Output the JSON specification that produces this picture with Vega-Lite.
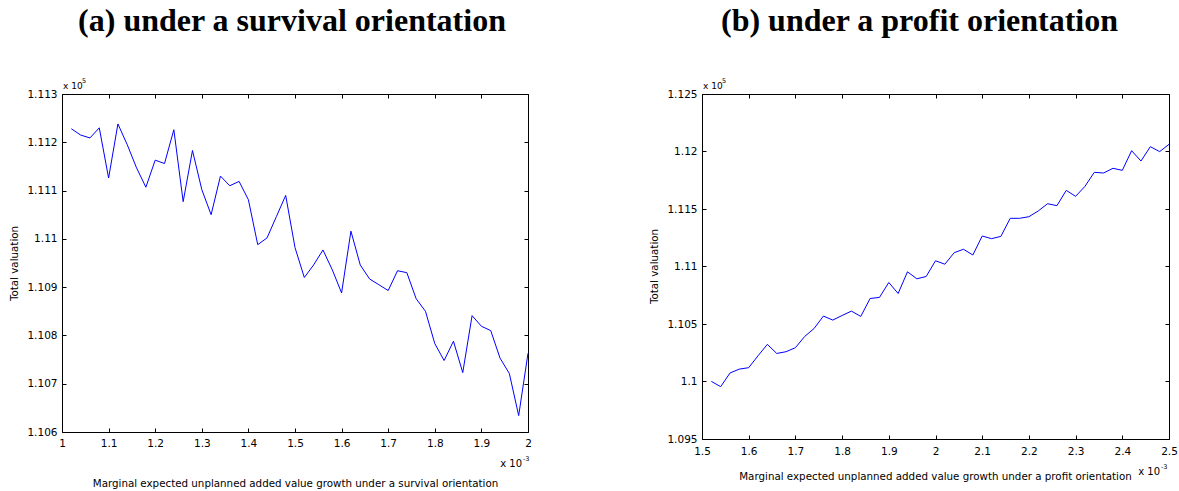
{
  "$schema": "https://vega.github.io/schema/vega-lite/v6.json",
  "background": "white",
  "padding": {"left": 8, "top": 4, "right": 0, "bottom": 0},
  "spacing": 116,
  "config": {
    "view": {"stroke": "black", "strokeWidth": 1},
    "font": "DejaVu Sans",
    "axis": {
      "labelFont": "DejaVu Sans", "labelFontSize": 10.5, "labelColor": "black",
      "titleFont": "DejaVu Sans", "titleFontSize": 10.3, "titleFontWeight": "normal", "titleColor": "black",
      "tickColor": "black", "tickSize": -4, "tickWidth": 1, "domain": false, "grid": false, "labelFlush": false
    }
  },
  "datasets": {
    "survival": [
      {"x": 1.02, "y": 1.11228}, {"x": 1.04, "y": 1.11215}, {"x": 1.06, "y": 1.11209}, {"x": 1.08, "y": 1.1123},
      {"x": 1.10, "y": 1.11126}, {"x": 1.12, "y": 1.11238}, {"x": 1.14, "y": 1.11195}, {"x": 1.16, "y": 1.11147},
      {"x": 1.18, "y": 1.11107}, {"x": 1.20, "y": 1.11163}, {"x": 1.22, "y": 1.11156}, {"x": 1.24, "y": 1.11226},
      {"x": 1.26, "y": 1.11077}, {"x": 1.28, "y": 1.11183}, {"x": 1.30, "y": 1.11102}, {"x": 1.32, "y": 1.1105},
      {"x": 1.34, "y": 1.1113}, {"x": 1.36, "y": 1.1111}, {"x": 1.38, "y": 1.11119}, {"x": 1.40, "y": 1.11081},
      {"x": 1.42, "y": 1.10988}, {"x": 1.44, "y": 1.11002}, {"x": 1.46, "y": 1.11046}, {"x": 1.48, "y": 1.1109},
      {"x": 1.50, "y": 1.10982}, {"x": 1.52, "y": 1.1092}, {"x": 1.54, "y": 1.10946}, {"x": 1.56, "y": 1.10977},
      {"x": 1.58, "y": 1.10936}, {"x": 1.60, "y": 1.10888}, {"x": 1.62, "y": 1.11016}, {"x": 1.64, "y": 1.10946},
      {"x": 1.66, "y": 1.10917}, {"x": 1.68, "y": 1.10905}, {"x": 1.70, "y": 1.10893}, {"x": 1.72, "y": 1.10934},
      {"x": 1.74, "y": 1.1093}, {"x": 1.76, "y": 1.10876}, {"x": 1.78, "y": 1.1085}, {"x": 1.80, "y": 1.10783},
      {"x": 1.82, "y": 1.10748}, {"x": 1.84, "y": 1.10788}, {"x": 1.86, "y": 1.10723}, {"x": 1.88, "y": 1.10841},
      {"x": 1.90, "y": 1.10819}, {"x": 1.92, "y": 1.1081}, {"x": 1.94, "y": 1.10753}, {"x": 1.96, "y": 1.10721},
      {"x": 1.98, "y": 1.10634}, {"x": 2.00, "y": 1.10763}
    ],
    "profit": [
      {"x": 1.52, "y": 1.10001}, {"x": 1.54, "y": 1.09955}, {"x": 1.56, "y": 1.10074}, {"x": 1.58, "y": 1.10108},
      {"x": 1.60, "y": 1.1012}, {"x": 1.62, "y": 1.10224}, {"x": 1.64, "y": 1.10323}, {"x": 1.66, "y": 1.10244},
      {"x": 1.68, "y": 1.10259}, {"x": 1.70, "y": 1.10294}, {"x": 1.72, "y": 1.10392}, {"x": 1.74, "y": 1.10461},
      {"x": 1.76, "y": 1.10569}, {"x": 1.78, "y": 1.10534}, {"x": 1.80, "y": 1.10574}, {"x": 1.82, "y": 1.10612},
      {"x": 1.84, "y": 1.10566}, {"x": 1.86, "y": 1.10722}, {"x": 1.88, "y": 1.10731}, {"x": 1.90, "y": 1.10861},
      {"x": 1.92, "y": 1.10765}, {"x": 1.94, "y": 1.10954}, {"x": 1.96, "y": 1.10893}, {"x": 1.98, "y": 1.10913},
      {"x": 2.00, "y": 1.1105}, {"x": 2.02, "y": 1.1102}, {"x": 2.04, "y": 1.1112}, {"x": 2.06, "y": 1.1115},
      {"x": 2.08, "y": 1.111}, {"x": 2.10, "y": 1.11265}, {"x": 2.12, "y": 1.11242}, {"x": 2.14, "y": 1.11262},
      {"x": 2.16, "y": 1.11419}, {"x": 2.18, "y": 1.11419}, {"x": 2.20, "y": 1.11433}, {"x": 2.22, "y": 1.11483},
      {"x": 2.24, "y": 1.11546}, {"x": 2.26, "y": 1.11529}, {"x": 2.28, "y": 1.11662}, {"x": 2.30, "y": 1.1161},
      {"x": 2.32, "y": 1.11697}, {"x": 2.34, "y": 1.11819}, {"x": 2.36, "y": 1.11813}, {"x": 2.38, "y": 1.11854},
      {"x": 2.40, "y": 1.11836}, {"x": 2.42, "y": 1.12007}, {"x": 2.44, "y": 1.11917}, {"x": 2.46, "y": 1.12042},
      {"x": 2.48, "y": 1.11999}, {"x": 2.50, "y": 1.12062}
    ]
  },
  "hconcat": [
    {
      "width": 466, "height": 338,
      "title": {"text": "(a) under a survival orientation", "font": "Liberation Serif", "fontSize": 32, "fontWeight": "bold", "color": "black", "anchor": "middle", "frame": "group", "baseline": "alphabetic", "offset": 15, "dx": -3},
      "resolve": {"axis": {"x": "independent", "y": "independent"}},
      "layer": [
        {
          "data": {"name": "survival"},
          "mark": {"type": "line", "color": "#0000ff", "strokeWidth": 1},
          "encoding": {
            "x": {"field": "x", "type": "quantitative", "scale": {"domain": [1, 2], "nice": false, "zero": false},
              "axis": {"orient": "bottom", "values": [1, 1.1, 1.2, 1.3, 1.4, 1.5, 1.6, 1.7, 1.8, 1.9, 2], "format": "~g", "labelPadding": 10,
                "title": "Marginal expected unplanned added value growth under a survival orientation", "titleX": 233, "titleY": 54, "titleBaseline": "alphabetic", "titleAlign": "center"}},
            "y": {"field": "y", "type": "quantitative", "scale": {"domain": [1.106, 1.113], "nice": false, "zero": false},
              "axis": {"orient": "left", "values": [1.106, 1.107, 1.108, 1.109, 1.11, 1.111, 1.112, 1.113], "format": ".4~g", "labelPadding": 9,
                "title": "Total valuation", "titleX": -48, "titleY": 169, "titleBaseline": "middle", "titleAlign": "center", "titleAngle": -90}}
          }
        },
        {
          "data": {"name": "survival"},
          "mark": {"type": "line", "opacity": 0},
          "encoding": {
            "x": {"field": "x", "type": "quantitative", "axis": {"orient": "top", "values": [1, 1.1, 1.2, 1.3, 1.4, 1.5, 1.6, 1.7, 1.8, 1.9, 2], "labels": false, "title": null}},
            "y": {"field": "y", "type": "quantitative", "axis": {"orient": "right", "values": [1.106, 1.107, 1.108, 1.109, 1.11, 1.111, 1.112, 1.113], "labels": false, "title": null}}
          }
        },
        {
          "data": {"values": [{"label": "x 10"}]},
          "mark": {"type": "text", "align": "left", "baseline": "alphabetic", "dx": 1, "dy": -5, "fontSize": 9, "font": "DejaVu Sans", "color": "black"},
          "encoding": {"text": {"field": "label"}, "x": {"datum": 1, "type": "quantitative", "axis": null}, "y": {"datum": 1.113, "type": "quantitative", "axis": null}}
        },
        {
          "data": {"values": [{"label": "5"}]},
          "mark": {"type": "text", "align": "left", "baseline": "alphabetic", "dx": 20, "dy": -11, "fontSize": 6.5, "font": "DejaVu Sans", "color": "black"},
          "encoding": {"text": {"field": "label"}, "x": {"datum": 1, "type": "quantitative", "axis": null}, "y": {"datum": 1.113, "type": "quantitative", "axis": null}}
        },
        {
          "data": {"values": [{"label": "x 10"}]},
          "mark": {"type": "text", "align": "right", "baseline": "alphabetic", "dx": -6, "dy": 35, "fontSize": 10, "font": "DejaVu Sans", "color": "black"},
          "encoding": {"text": {"field": "label"}, "x": {"datum": 2, "type": "quantitative", "axis": null}, "y": {"datum": 1.106, "type": "quantitative", "axis": null}}
        },
        {
          "data": {"values": [{"label": "-3"}]},
          "mark": {"type": "text", "align": "left", "baseline": "alphabetic", "dx": -5, "dy": 29, "fontSize": 6.5, "font": "DejaVu Sans", "color": "black"},
          "encoding": {"text": {"field": "label"}, "x": {"datum": 2, "type": "quantitative", "axis": null}, "y": {"datum": 1.106, "type": "quantitative", "axis": null}}
        }
      ]
    },
    {
      "width": 467, "height": 345,
      "title": {"text": "(b) under a profit orientation", "font": "Liberation Serif", "fontSize": 32, "fontWeight": "bold", "color": "black", "anchor": "middle", "frame": "group", "baseline": "alphabetic", "offset": 15, "dx": -16},
      "resolve": {"axis": {"x": "independent", "y": "independent"}},
      "layer": [
        {
          "data": {"name": "profit"},
          "mark": {"type": "line", "color": "#0000ff", "strokeWidth": 1},
          "encoding": {
            "x": {"field": "x", "type": "quantitative", "scale": {"domain": [1.5, 2.5], "nice": false, "zero": false},
              "axis": {"orient": "bottom", "values": [1.5, 1.6, 1.7, 1.8, 1.9, 2, 2.1, 2.2, 2.3, 2.4, 2.5], "format": "~g", "labelPadding": 11,
                "title": "Marginal expected unplanned added value growth under a profit orientation", "titleX": 233, "titleY": 40, "titleBaseline": "alphabetic", "titleAlign": "center"}},
            "y": {"field": "y", "type": "quantitative", "scale": {"domain": [1.095, 1.125], "nice": false, "zero": false},
              "axis": {"orient": "left", "values": [1.095, 1.1, 1.105, 1.11, 1.115, 1.12, 1.125], "format": ".4~g", "labelPadding": 9,
                "title": "Total valuation", "titleX": -48, "titleY": 172, "titleBaseline": "middle", "titleAlign": "center", "titleAngle": -90}}
          }
        },
        {
          "data": {"name": "profit"},
          "mark": {"type": "line", "opacity": 0},
          "encoding": {
            "x": {"field": "x", "type": "quantitative", "axis": {"orient": "top", "values": [1.5, 1.6, 1.7, 1.8, 1.9, 2, 2.1, 2.2, 2.3, 2.4, 2.5], "labels": false, "title": null}},
            "y": {"field": "y", "type": "quantitative", "axis": {"orient": "right", "values": [1.095, 1.1, 1.105, 1.11, 1.115, 1.12, 1.125], "labels": false, "title": null}}
          }
        },
        {
          "data": {"values": [{"label": "x 10"}]},
          "mark": {"type": "text", "align": "left", "baseline": "alphabetic", "dx": 1, "dy": -5, "fontSize": 9, "font": "DejaVu Sans", "color": "black"},
          "encoding": {"text": {"field": "label"}, "x": {"datum": 1.5, "type": "quantitative", "axis": null}, "y": {"datum": 1.125, "type": "quantitative", "axis": null}}
        },
        {
          "data": {"values": [{"label": "5"}]},
          "mark": {"type": "text", "align": "left", "baseline": "alphabetic", "dx": 20, "dy": -11, "fontSize": 6.5, "font": "DejaVu Sans", "color": "black"},
          "encoding": {"text": {"field": "label"}, "x": {"datum": 1.5, "type": "quantitative", "axis": null}, "y": {"datum": 1.125, "type": "quantitative", "axis": null}}
        },
        {
          "data": {"values": [{"label": "x 10"}]},
          "mark": {"type": "text", "align": "right", "baseline": "alphabetic", "dx": -9, "dy": 36, "fontSize": 10, "font": "DejaVu Sans", "color": "black"},
          "encoding": {"text": {"field": "label"}, "x": {"datum": 2.5, "type": "quantitative", "axis": null}, "y": {"datum": 1.095, "type": "quantitative", "axis": null}}
        },
        {
          "data": {"values": [{"label": "-3"}]},
          "mark": {"type": "text", "align": "left", "baseline": "alphabetic", "dx": -8, "dy": 30, "fontSize": 6.5, "font": "DejaVu Sans", "color": "black"},
          "encoding": {"text": {"field": "label"}, "x": {"datum": 2.5, "type": "quantitative", "axis": null}, "y": {"datum": 1.095, "type": "quantitative", "axis": null}}
        }
      ]
    }
  ]
}
